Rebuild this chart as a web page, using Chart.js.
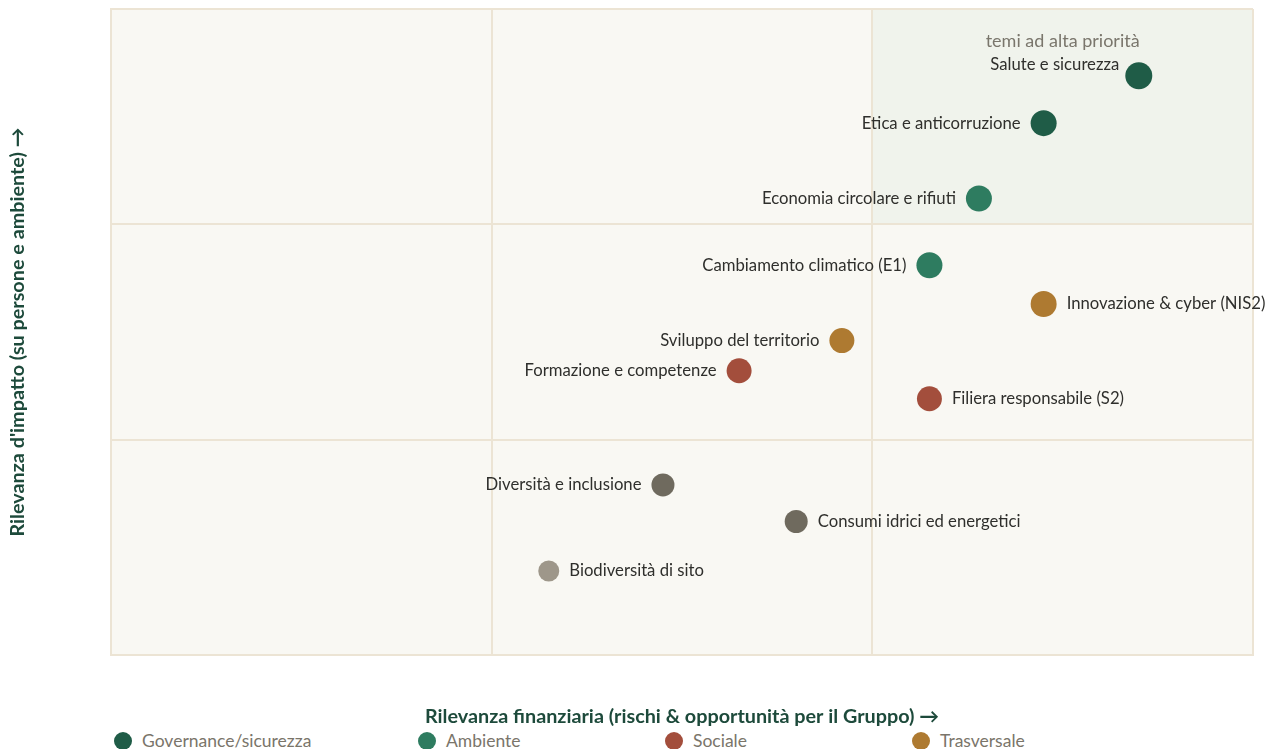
<!DOCTYPE html>
<html lang="it">
<head>
<meta charset="utf-8">
<script src="https://cdn.jsdelivr.net/npm/chart.js@4.4.1/dist/chart.umd.min.js"></script>
<style>
  body { margin: 0; background: #ffffff; font-family: Lato, "Noto Sans", sans-serif; overflow: hidden; }
  #wrap { position: relative; width: 1273px; height: 730px; }
  .legenda { position: absolute; top: 730px; left: 0; width: 1273px; height: 20px; }
  .voce { position: absolute; top: 0; display: flex; align-items: center; font-size: 17.5px; color: #7a756a; }
  .voce span { width: 18px; height: 18px; border-radius: 50%; margin-right: 10px; display: inline-block; }
</style>
</head>
<body>
<div id="wrap"><canvas id="matrice"></canvas></div>
<div class="legenda">
  <div class="voce" style="left:114px"><span style="background:#1f5c47"></span>Governance/sicurezza</div>
  <div class="voce" style="left:418px"><span style="background:#2e7c60"></span>Ambiente</div>
  <div class="voce" style="left:665px"><span style="background:#a34e3c"></span>Sociale</div>
  <div class="voce" style="left:912px"><span style="background:#ae7a31"></span>Trasversale</div>
</div>
<script>
// temi della matrice di doppia materialità
const temi = [
  "Salute e sicurezza", "Etica e anticorruzione", "Economia circolare e rifiuti",
  "Cambiamento climatico (E1)", "Innovazione & cyber (NIS2)", "Sviluppo del territorio",
  "Formazione e competenze", "Filiera responsabile (S2)", "Diversità e inclusione",
  "Consumi idrici ed energetici", "Biodiversità di sito"
];
const finanziaria = [2.70, 2.45, 2.28, 2.15, 2.45, 1.92, 1.65, 2.15, 1.45, 1.80, 1.15];
const impatto     = [2.69, 2.47, 2.12, 1.81, 1.63, 1.46, 1.32, 1.19, 0.79, 0.62, 0.39];
const raggio      = [13.5, 13, 13, 13, 13, 12.5, 12.5, 12.5, 11.5, 11.5, 10.5];
const categoria   = ["gov", "gov", "amb", "amb", "tra", "tra", "soc", "soc", "bassa", "bassa", "minima"];
const lato        = ["sopra", "sx", "sx", "sx", "dx", "sx", "sx", "dx", "sx", "dx", "dx"];

const colori = {
  gov: "#1f5c47",
  amb: "#2e7c60",
  soc: "#a34e3c",
  tra: "#ae7a31",
  bassa: "#6f6a5e",
  minima: "#9e978a"
};
const nomiCategorie = {
  gov: "Governance/sicurezza", amb: "Ambiente", soc: "Sociale", tra: "Trasversale",
  bassa: "Altri", minima: "Altri (bassa)"
};

const datasets = Object.keys(colori).map(cat => {
  const punti = [];
  temi.forEach((t, i) => {
    if (categoria[i] === cat) {
      punti.push({ x: finanziaria[i], y: impatto[i], r: raggio[i], nome: t, lato: lato[i] });
    }
  });
  return {
    label: nomiCategorie[cat],
    data: punti,
    backgroundColor: colori[cat],
    borderWidth: 0,
    hoverBorderWidth: 0
  };
});

const griglia = "#ece4d4";

// sfondo dell'area e riquadro dei temi prioritari
const sfondo = {
  id: "sfondo",
  beforeDraw(chart) {
    const { ctx, chartArea: a, scales: { x, y } } = chart;
    ctx.save();
    ctx.fillStyle = "#f9f8f3";
    ctx.fillRect(a.left, a.top, a.width, a.height);
    const x0 = x.getPixelForValue(2), x1 = x.getPixelForValue(3);
    const y0 = y.getPixelForValue(3), y1 = y.getPixelForValue(2);
    ctx.fillStyle = "#f0f3ec";
    ctx.fillRect(x0, y0, x1 - x0, y1 - y0);
    ctx.fillStyle = "#7a766c";
    ctx.font = "18px Lato";
    ctx.textAlign = "center";
    ctx.textBaseline = "middle";
    ctx.fillText("temi ad alta priorità", x.getPixelForValue(2.5), y0 + 32);
    ctx.restore();
  }
};

// etichette dei temi accanto ai punti
const etichette = {
  id: "etichette",
  afterDatasetsDraw(chart) {
    const ctx = chart.ctx;
    ctx.save();
    ctx.font = "16.7px Lato";
    ctx.fillStyle = "#2f2f2c";
    ctx.textBaseline = "middle";
    chart.data.datasets.forEach((ds, di) => {
      chart.getDatasetMeta(di).data.forEach((el, i) => {
        const p = ds.data[i];
        if (p.lato === "dx") {
          ctx.textAlign = "left";
          ctx.fillText(p.nome, el.x + p.r + 10, el.y);
        } else if (p.lato === "sopra") {
          ctx.textAlign = "right";
          ctx.fillText(p.nome, el.x - p.r - 6, el.y - 11);
        } else {
          ctx.textAlign = "right";
          ctx.fillText(p.nome, el.x - p.r - 10, el.y);
        }
      });
    });
    ctx.restore();
  }
};

new Chart(document.getElementById("matrice"), {
  type: "bubble",
  data: { datasets },
  options: {
    maintainAspectRatio: false,
    animation: false,
    layout: { autoPadding: false, padding: { top: 9, right: 20, left: 0, bottom: 0 } },
    plugins: { legend: { display: false }, tooltip: { enabled: false } },
    scales: {
      x: {
        min: 0, max: 3,
        ticks: { display: false, stepSize: 1 },
        grid: { color: griglia, lineWidth: 2, drawTicks: false },
        border: { color: griglia, width: 2 },
        title: {
          display: true,
          text: "Rilevanza finanziaria (rischi & opportunità per il Gruppo) →",
          color: "#1d4a3b",
          font: { family: "Lato", size: 19.8, weight: "bold" },
          padding: { top: 0, bottom: 2 }
        },
        afterFit: s => { s.height = 75; }
      },
      y: {
        min: 0, max: 3,
        ticks: { display: false, stepSize: 1 },
        grid: { color: griglia, lineWidth: 2, drawTicks: false },
        border: { color: griglia, width: 2 },
        title: {
          display: true,
          text: "Rilevanza d'impatto (su persone e ambiente) →",
          color: "#1d4a3b",
          font: { family: "Lato", size: 19.8, weight: "bold" },
          padding: { top: 6, bottom: 0 }
        },
        afterFit: s => { s.width = 111; }
      }
    }
  },
  plugins: [sfondo, etichette]
});
</script>
</body>
</html>
